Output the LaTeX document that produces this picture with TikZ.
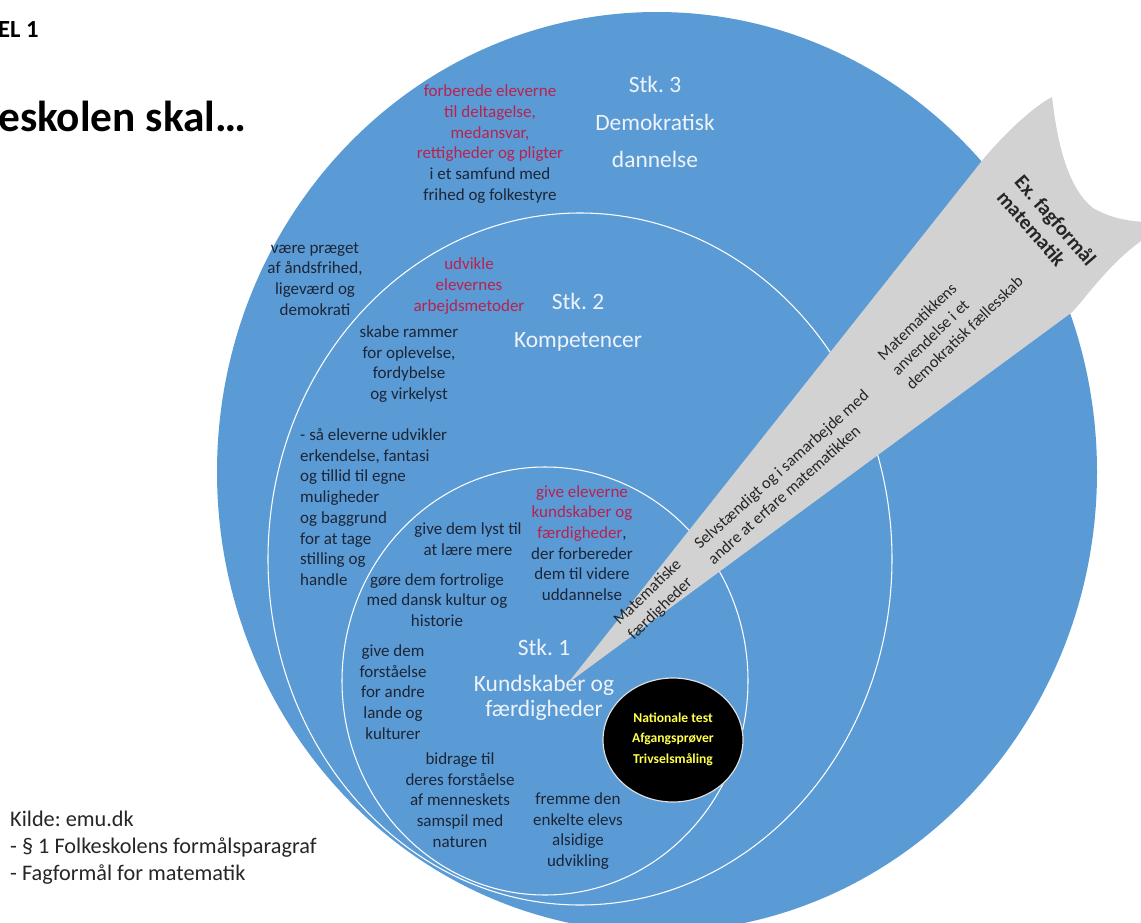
\documentclass[tikz,border=0pt]{standalone}
\usepackage{fontspec}
\setmainfont{Carlito}
\usepackage{tikz}
\usepackage{xcolor}
\frenchspacing
\definecolor{circleblue}{HTML}{5B9BD5}
\definecolor{darktext}{HTML}{1C2536}
\definecolor{redtext}{HTML}{B82150}
\definecolor{labelwhite}{HTML}{EEF3FA}
\definecolor{arrowgray}{HTML}{D2D2D2}
\definecolor{testyellow}{HTML}{FFFF4D}
\newcommand{\redtxt}[1]{\textcolor{redtext}{#1}}
\tikzset{
    body-text/.style = {text=darktext, font=\fontsize{14.5}{17.7}\selectfont, align=center, inner sep=0pt},
    stk-label/.style = {text=labelwhite, font=\fontsize{20}{32}\selectfont, align=center, inner sep=0pt},
    ring-line/.style = {draw=white, line width=0.9pt},
    arrow-text/.style = {text=black!85, font=\fontsize{14}{17.5}\selectfont, align=left, inner sep=0pt},
    test-text/.style = {text=testyellow, font=\bfseries\fontsize{11.6}{17.5}\selectfont, align=center, inner sep=0pt},
}

\begin{document}
\begin{tikzpicture}[x=0.03cm, y=-0.03cm]
\useasboundingbox (0,0) rectangle (1141,923);
\clip (0,0) rectangle (1141,923);
\fill[white] (0,0) rectangle (1141,923);

\fill[circleblue] (657,472) ellipse [x radius=440, y radius=460];
\draw[ring-line] (580,559) ellipse [x radius=312, y radius=346];
\draw[ring-line] (545,681) ellipse [x radius=203, y radius=214];

\node[anchor=base west, inner sep=0pt, font=\bfseries\fontsize{21}{25}\selectfont] (niveau) at (-2,37) {EL 1};
\node[anchor=base west, inner sep=0pt, font=\bfseries\fontsize{37}{44}\selectfont] (skal) at (-2,131) {eskolen skal…};

\node[stk-label] (stk3) at (655,122) {Stk. 3\\Demokratisk\\dannelse};
\node[body-text] (forberede) at (490,144) {\redtxt{forberede eleverne}\\\redtxt{til deltagelse,}\\\redtxt{medansvar,}\\\redtxt{rettigheder og pligter}\\i et samfund med\\frihed og folkestyre};
\node[body-text] (praeget) at (315,279) {være præget\\af åndsfrihed,\\ligeværd og\\demokrati};

\node[body-text] (udvikle) at (469,286) {\redtxt{udvikle}\\\redtxt{elevernes}\\\redtxt{arbejdsmetoder}};
\node[stk-label, font=\fontsize{20}{32.4}\selectfont] (stk2) at (578,322) {Stk. 2\\Kompetencer};
\node[body-text] (rammer) at (409,364) {skabe rammer\\for oplevelse,\\fordybelse\\og virkelyst};
\node[body-text, align=left, anchor=west] (erkendelse) at (300,507) {- så eleverne udvikler\\erkendelse, fantasi\\og tillid til egne\\muligheder\\og baggrund\\for at tage\\stilling og\\handle};

\node[body-text] (lyst) at (468,539) {give dem lyst til\\at lære mere};
\node[body-text] (fortrolige) at (437,600) {gøre dem fortrolige\\med dansk kultur og\\historie};
\node[body-text] (kundskaber) at (582,543) {\redtxt{give eleverne}\\\redtxt{kundskaber og}\\\redtxt{færdigheder},\\der forbereder\\dem til videre\\uddannelse};
\node[stk-label] (stk1) at (544,647) {Stk. 1};
\node[stk-label, font=\fontsize{20}{21.5}\selectfont] (stk1-title) at (544,698) {Kundskaber og\\færdigheder};
\node[body-text] (lande) at (393,692) {give dem\\forståelse\\for andre\\lande og\\kulturer};
\node[body-text] (naturen) at (460,800) {bidrage til\\deres forståelse\\af menneskets\\samspil med\\naturen};
\node[body-text] (alsidig) at (578,831) {fremme den\\enkelte elevs\\alsidige\\udvikling};

\fill[arrowgray] (568,683) -- (985,157) .. controls (1010,128) and (1035,106) .. (1052,97)
    .. controls (1058,150) and (1070,190) .. (1093,208)
    .. controls (1110,218) and (1130,222) .. (1150,222) -- (1150,235)
    .. controls (1110,260) and (1085,300) .. (1071,313) -- cycle;
\node[arrow-text, rotate=44] (faerdigheder) at (655,600) {Matematiske\\færdigheder};
\node[arrow-text, rotate=42] (erfare) at (788,477) {Selvstændigt og i samarbejde med\\andre at erfare matematikken};
\node[arrow-text, rotate=44] (faellesskab) at (950,318) {Matematikkens\\anvendelse i et\\demokratisk fællesskab};
\node[arrow-text, rotate=-49, font=\bfseries\fontsize{17.5}{20}\selectfont] (fagformaal) at (1047,228) {Ex. fagformål\\matematik};

\draw[fill=black, draw=white!75!gray, line width=1pt] (673,740) ellipse [x radius=70, y radius=62];
\node[test-text] (test) at (673,739) {Nationale test\\Afgangsprøver\\Trivselsmåling};

\node[anchor=west, align=left, inner sep=0pt, text=black!85, font=\fontsize{19}{23}\selectfont] (kilde) at (10,848) {Kilde: emu.dk\\- § 1 Folkeskolens formålsparagraf\\- Fagformål for matematik};
\end{tikzpicture}
\end{document}
